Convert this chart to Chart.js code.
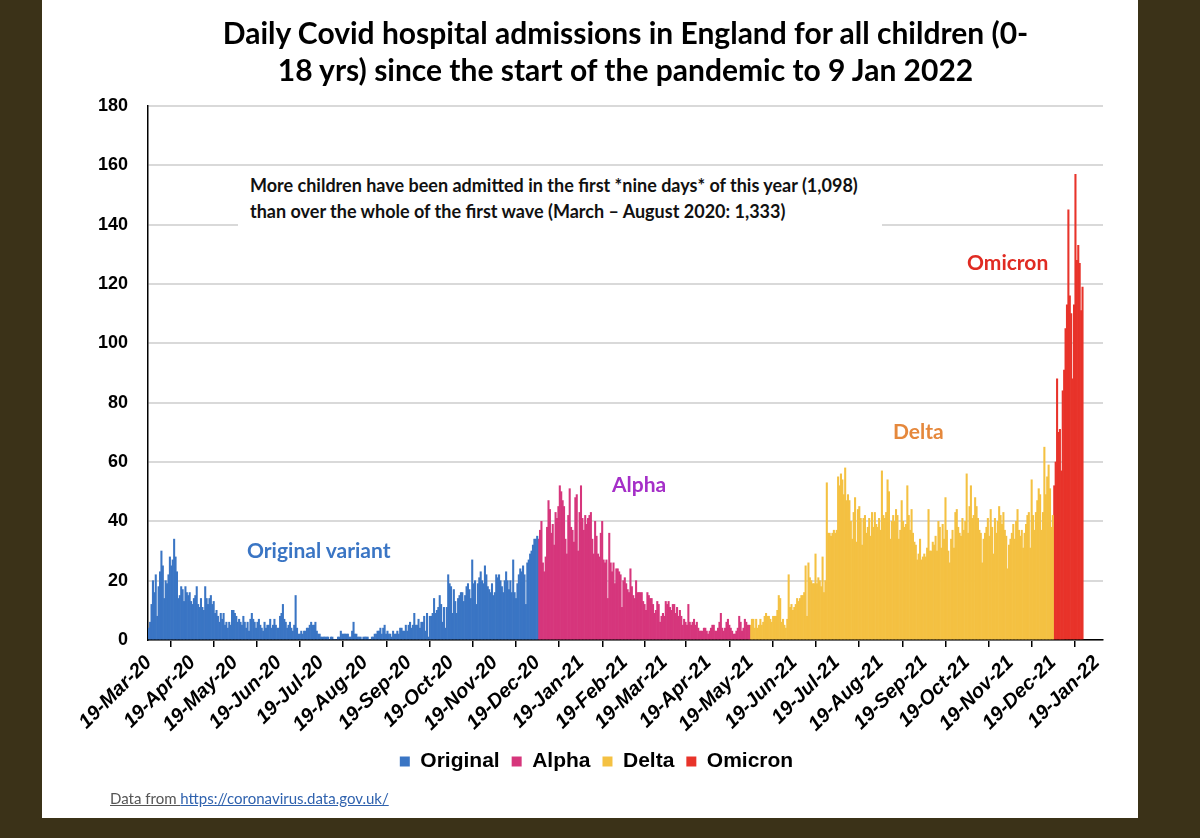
<!DOCTYPE html>
<html>
<head>
<meta charset="utf-8">
<script src="https://cdn.jsdelivr.net/npm/chart.js@4.4.1/dist/chart.umd.min.js"></script>
<style>
  html, body { margin: 0; padding: 0; }
  body { width: 1200px; height: 838px; background: #3b3218; position: relative; overflow: hidden; }
  #panel { position: absolute; left: 42px; top: 0; width: 1096px; height: 818px; background: #fff; }
  #wrap { position: absolute; left: 42px; top: 0; width: 1096px; height: 790px; }
  .title { position: absolute; left: 120px; width: 1011px; top: 14px; text-align: center;
           font: bold 30px Lato, sans-serif; line-height: 37px; color: #000; }
  .note { position: absolute; left: 238px; top: 172px; width: 644px; height: 58px; background: #fff;
          font: bold 18px Lato, sans-serif; line-height: 26px; color: #111; padding-left: 12px; box-sizing: border-box; white-space: nowrap; }
  .lbl { position: absolute; font: bold 21px Lato, sans-serif; white-space: nowrap; }
  .src { position: absolute; left: 110px; top: 789px; font: 15px Lato, sans-serif; color: #555; }
  .src span { text-decoration: underline; }
  .src a { color: #2f62ae; text-decoration: underline; }
</style>
</head>
<body>
<div id="panel"></div>
<div id="wrap"><canvas id="admissions"></canvas></div>
<div class="title">Daily Covid hospital admissions in England for all children (0-<br>18 yrs) since the start of the pandemic to 9 Jan 2022</div>
<div class="note">More children have been admitted in the first *nine days* of this year (1,098)<br>than over the whole of the first wave (March – August 2020: 1,333)</div>
<div class="lbl" style="left:247px; top:537px; color:#3a75c4;">Original variant</div>
<div class="lbl" style="left:612px; top:471px; color:#a52fc8;">Alpha</div>
<div class="lbl" style="left:893px; top:418px; color:#e5883c;">Delta</div>
<div class="lbl" style="left:967px; top:249px; color:#e02b22;">Omicron</div>
<div class="src"><span>Data from </span><a>https://coronavirus.data.gov.uk/</a></div>
<script>
// daily admissions per variant period
const original = [
  4, 6, 12, 20, 16, 22, 8, 18, 23, 30,
  25, 14, 20, 19, 22, 28, 25, 27, 34, 28,
  23, 14, 15, 18, 17, 13, 18, 16, 15, 16,
  13, 12, 14, 15, 18, 12, 11, 14, 11, 10,
  18, 14, 12, 14, 15, 12, 13, 9, 10, 8,
  6, 9, 7, 9, 5, 6, 4, 6, 5, 10,
  10, 9, 8, 6, 7, 6, 5, 8, 6, 4,
  6, 3, 7, 9, 7, 6, 4, 6, 7, 5,
  4, 3, 6, 4, 5, 5, 7, 4, 5, 7,
  5, 4, 4, 8, 9, 12, 7, 6, 4, 5,
  6, 4, 3, 5, 15, 4, 2, 2, 3, 2,
  3, 3, 4, 4, 5, 6, 5, 5, 6, 3,
  2, 2, 1, 1, 1, 1, 1, 1, 0, 1,
  1, 0, 0, 0, 1, 1, 3, 2, 2, 2,
  2, 2, 1, 1, 3, 6, 2, 2, 1, 1,
  1, 0, 1, 1, 1, 1, 0, 0, 1, 1,
  2, 2, 3, 3, 4, 2, 4, 5, 2, 3,
  2, 2, 1, 3, 2, 2, 3, 2, 4, 4,
  3, 3, 5, 3, 5, 6, 4, 5, 9, 5,
  5, 7, 4, 6, 6, 8, 3, 9, 1, 8,
  8, 9, 14, 9, 10, 11, 15, 12, 6, 11,
  4, 11, 22, 19, 18, 9, 17, 13, 9, 14,
  15, 16, 16, 13, 15, 18, 19, 17, 14, 27,
  19, 20, 12, 19, 21, 23, 20, 19, 25, 22,
  18, 17, 16, 19, 15, 16, 22, 21, 22, 20,
  18, 16, 20, 23, 20, 17, 20, 16, 27, 16,
  14, 19, 22, 24, 23, 25, 22, 12, 26, 27,
  29, 30, 32, 34, 34, 35
];
const alpha = [
  34, 37, 40, 26, 23, 28, 38, 47, 44, 36,
  39, 32, 43, 41, 45, 52, 50, 47, 45, 34,
  29, 42, 51, 38, 37, 33, 48, 49, 30, 43,
  52, 41, 37, 42, 39, 41, 42, 43, 34, 29,
  40, 35, 29, 28, 36, 40, 27, 26, 27, 14,
  36, 26, 23, 26, 19, 24, 24, 23, 22, 11,
  20, 21, 19, 17, 16, 24, 18, 15, 14, 20,
  16, 16, 16, 16, 13, 12, 10, 16, 15, 14,
  14, 12, 9, 10, 13, 12, 6, 8, 9, 8,
  13, 12, 13, 11, 10, 12, 12, 9, 11, 8,
  10, 8, 5, 7, 6, 5, 12, 6, 5, 6,
  7, 5, 6, 4, 3, 3, 3, 4, 4, 3,
  2, 3, 4, 5, 5, 3, 3, 4, 6, 9,
  4, 3, 4, 6, 7, 5, 4, 3, 2, 2,
  3, 4, 8, 6, 3, 4, 7, 6, 5, 5
];
const delta = [
  5, 7, 7, 4, 7, 4, 5, 7, 5, 6,
  8, 9, 8, 8, 7, 6, 8, 8, 8, 10,
  15, 14, 6, 7, 5, 4, 7, 22, 11, 12,
  10, 11, 12, 14, 13, 14, 15, 15, 16, 25,
  8, 26, 21, 20, 19, 19, 29, 19, 21, 20,
  18, 28, 16, 20, 53, 36, 36, 35, 36, 37,
  36, 37, 55, 52, 56, 54, 49, 58, 47, 49,
  47, 40, 34, 43, 48, 33, 44, 45, 41, 32,
  41, 42, 36, 38, 41, 35, 43, 38, 43, 39,
  38, 41, 37, 57, 42, 41, 43, 54, 50, 34,
  40, 42, 40, 44, 42, 34, 37, 47, 40, 38,
  39, 52, 42, 37, 44, 36, 33, 32, 27, 29,
  34, 27, 28, 29, 28, 31, 44, 30, 30, 33,
  32, 35, 30, 40, 38, 31, 39, 34, 48, 37,
  30, 26, 34, 37, 31, 43, 44, 38, 36, 35,
  41, 37, 40, 56, 36, 45, 52, 41, 42, 48,
  45, 41, 37, 36, 26, 34, 36, 38, 41, 35,
  44, 38, 29, 41, 36, 40, 45, 42, 39, 43,
  37, 35, 24, 32, 34, 36, 39, 34, 40, 44,
  37, 35, 37, 31, 36, 39, 42, 43, 31, 54,
  42, 37, 43, 47, 51, 49, 37, 43, 65, 49,
  55, 59, 51, 38, 42
];
const omicron = [
  52, 60, 88, 70, 71, 57, 84, 91, 105, 113,
  145, 116, 110, 88, 113, 157, 128, 133, 127, 111, 119
];

// first day of each period
const periodStarts = ['19-Mar-20', '20-Dec-20', '19-May-21', '20-Dec-21'];
const seriesNames = ['Original', 'Alpha', 'Delta', 'Omicron'];
const colours = ['#3a75c4', '#d6367c', '#f4c142', '#e8332a'];

// monthly tick labels on the x axis
const tickLabels = ['19-Mar-20', '19-Apr-20', '19-May-20', '19-Jun-20', '19-Jul-20', '19-Aug-20',
  '19-Sep-20', '19-Oct-20', '19-Nov-20', '19-Dec-20', '19-Jan-21', '19-Feb-21', '19-Mar-21',
  '19-Apr-21', '19-May-21', '19-Jun-21', '19-Jul-21', '19-Aug-21', '19-Sep-21', '19-Oct-21',
  '19-Nov-21', '19-Dec-21', '19-Jan-22'];

// one category per day, 19 Mar 2020 to 23 Jan 2022 (axis runs a few days past the last tick)
const months = ['Jan', 'Feb', 'Mar', 'Apr', 'May', 'Jun', 'Jul', 'Aug', 'Sep', 'Oct', 'Nov', 'Dec'];
const days = [];
for (let t = Date.UTC(2020, 2, 19); t <= Date.UTC(2022, 0, 23); t += 86400000) {
  const d = new Date(t);
  days.push(d.getUTCDate() + '-' + months[d.getUTCMonth()] + '-' + String(d.getUTCFullYear()).slice(2));
}

function place(values, startLabel) {
  const out = new Array(days.length).fill(null);
  const start = days.indexOf(startLabel);
  values.forEach((v, i) => { out[start + i] = v; });
  return out;
}

const periods = [original, alpha, delta, omicron];

new Chart(document.getElementById('admissions'), {
  type: 'bar',
  data: {
    labels: days,
    datasets: periods.map((vals, i) => ({
      label: seriesNames[i],
      data: place(vals, periodStarts[i]),
      backgroundColor: colours[i],
      borderWidth: 0,
      barPercentage: 1,
      categoryPercentage: 1
    }))
  },
  options: {
    responsive: true,
    maintainAspectRatio: false,
    animation: false,
    layout: { padding: { top: 106, right: 35, bottom: 8, left: 48 } },
    plugins: {
      tooltip: { enabled: false },
      legend: {
        position: 'bottom',
        labels: {
          boxWidth: 10, boxHeight: 10, padding: 12, color: '#000',
          font: { family: 'Liberation Sans, Arial, sans-serif', size: 21, weight: 'bold' }
        }
      }
    },
    scales: {
      x: {
        stacked: true,
        border: { display: true, color: '#000', width: 1.5 },
        grid: {
          drawOnChartArea: false, drawTicks: true, tickLength: 7,
          color: c => (c.tick && c.tick.label ? '#000' : 'rgba(0,0,0,0)'), lineWidth: 1.5
        },
        ticks: {
          autoSkip: false, minRotation: 45, maxRotation: 45, color: '#000', padding: 4,
          font: { family: 'Liberation Sans, Arial, sans-serif', size: 20, weight: 'bold', style: 'italic' },
          callback: function (value) {
            const l = this.getLabelForValue(value);
            return tickLabels.includes(l) ? l : null;
          }
        },
        afterFit: s => { s.height = 99; }
      },
      y: {
        stacked: true,
        min: 0, max: 180,
        border: { display: true, color: '#000', width: 1.5 },
        grid: { color: '#d9d9d9', lineWidth: 2, drawTicks: false },
        ticks: {
          stepSize: 20, padding: 20, color: '#000',
          font: { family: 'Liberation Sans, Arial, sans-serif', size: 18, weight: 'bold' }
        },
        afterFit: s => { s.width = 58; }
      }
    }
  }
});
</script>
</body>
</html>
